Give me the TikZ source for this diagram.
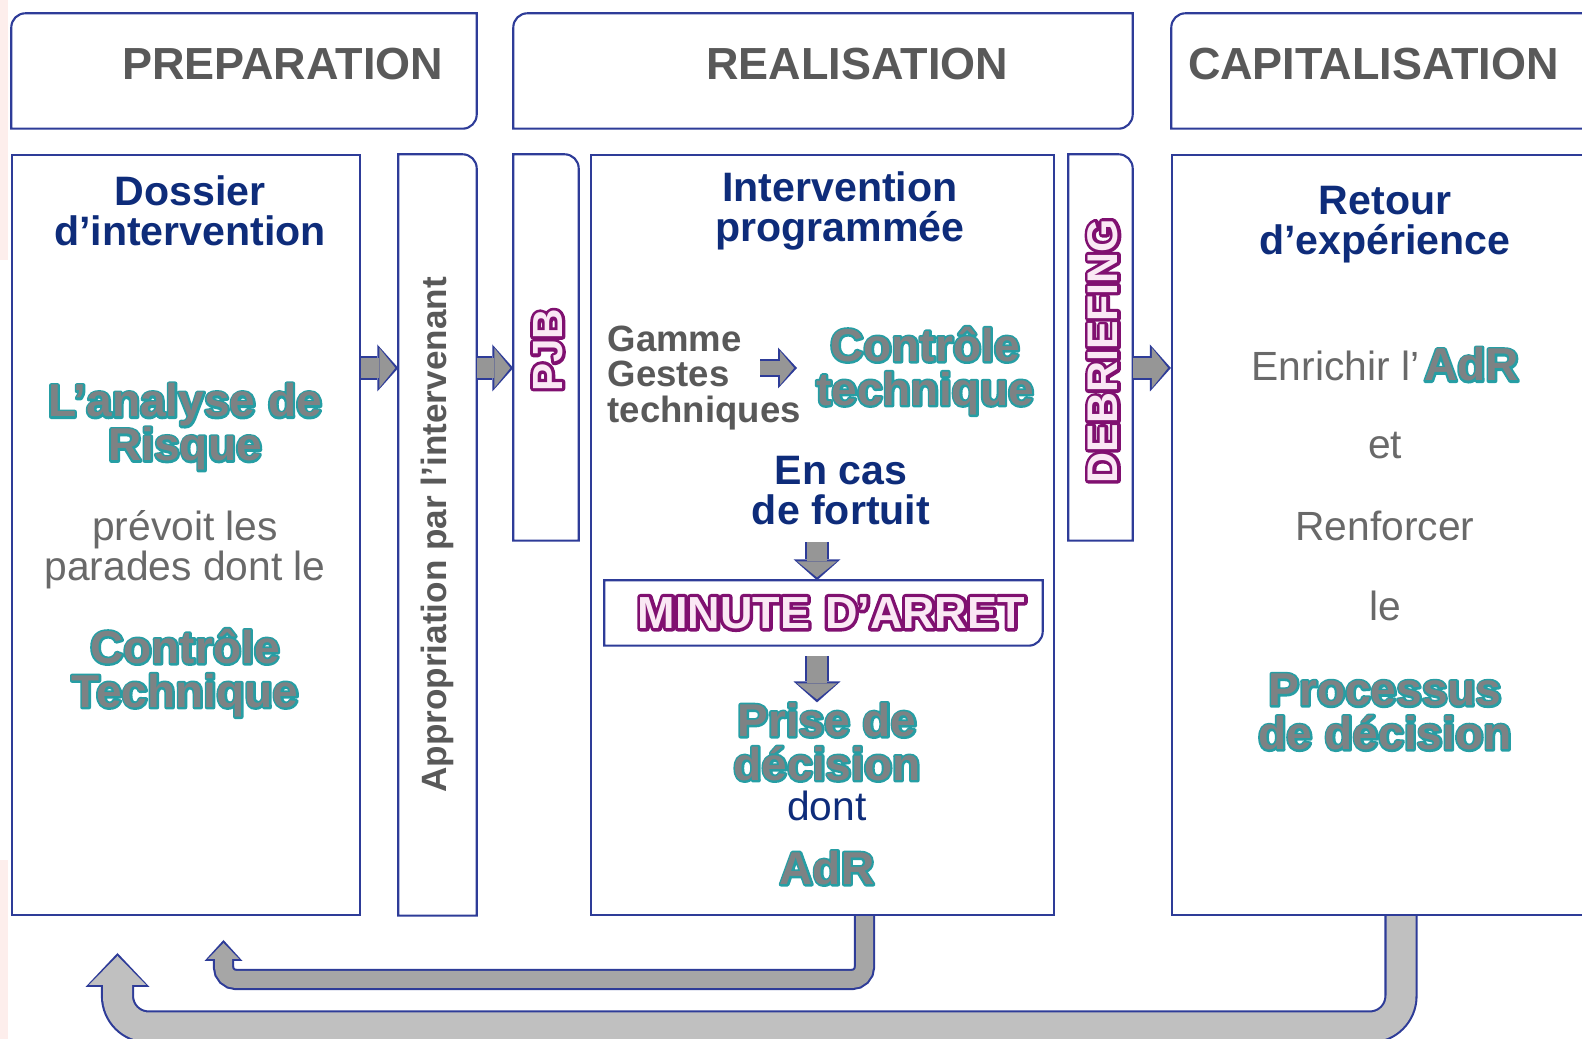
\documentclass[tikz,border=0pt]{standalone}
\usepackage{fontspec}
\setmainfont{Liberation Sans}
\newfontfamily\heavy{Liberation Sans Bold}
\newfontfamily\heavystroke{Liberation Sans Bold}[FakeBold=9]
\newfontfamily\heavyrim{Liberation Sans Bold}[FakeBold=15]
\usetikzlibrary{arrows.meta,calc,positioning}
\definecolor{linkblue}{RGB}{46,60,152}
\definecolor{navy}{RGB}{14,44,122}
\definecolor{headgray}{RGB}{89,89,89}
\definecolor{softgray}{RGB}{105,105,105}
\definecolor{tealline}{RGB}{38,158,164}
\definecolor{tealfill}{RGB}{125,130,132}
\definecolor{purpline}{RGB}{128,16,112}
\definecolor{purpfill}{RGB}{250,232,244}
\definecolor{arrowgray}{RGB}{150,150,150}
\definecolor{fbdark}{RGB}{166,166,166}
\definecolor{fblight}{RGB}{192,192,192}
\definecolor{blush}{RGB}{253,238,236}
\newcommand\tealtxt[1]{\leavevmode\rlap{\special{pdf:literal 1 j}\color{tealline}\heavystroke #1}{\color{tealfill}\heavy #1}}
\newcommand\purtxt[1]{\leavevmode\rlap{\special{pdf:literal 1 j}\color{purpline}\heavyrim #1}{\color{purpfill}\heavy #1}}
\newcommand\diagframe[1]{\draw[boxline] (#1.south west) -- ([yshift=-4pt]#1.north west) arc[start angle=180,end angle=90,radius=4pt] -- (#1.north east) -- ([yshift=4pt]#1.south east) arc[start angle=0,end angle=-90,radius=4pt] -- cycle;}
\newcommand\tabframe[1]{\draw[boxline] (#1.south west) -- (#1.north west) -- ([xshift=-4pt]#1.north east) arc[start angle=90,end angle=0,radius=4pt] -- (#1.south east) -- cycle;}
\newcommand\tailframe[1]{\draw[boxline] (#1.south west) -- (#1.north west) -- (#1.north east) -- ([yshift=4pt]#1.south east) arc[start angle=0,end angle=-90,radius=4pt] -- cycle;}
\tikzset{
    boxline/.style={draw=linkblue, line width=0.6pt},
    panel/.style={boxline, inner sep=0pt},
    ghost/.style={inner sep=0pt},
    hdr/.style={ghost, font=\bfseries\fontsize{12.8}{14}\selectfont, text=headgray,
        minimum height=11.4mm, text height=3.3mm, text depth=1.6mm},
    heading/.style={ghost, font=\bfseries\fontsize{11.7}{11.4}\selectfont, text=navy, align=center},
    keyword/.style={ghost, font=\fontsize{13.1}{12.5}\selectfont, align=center},
    soft/.style={ghost, font=\fontsize{11.6}{11.4}\selectfont, text=softgray, align=center},
    vtext/.style={ghost, rotate=90},
    blk/.style={draw=arrowgray, line width=2mm, shorten >=0.3mm,
        -{Triangle[length=1.6mm,width=4mm,line width=0pt]},
        preaction={draw=linkblue, line width=2.42mm, shorten >=0pt,
        -{Triangle[length=2.1mm,width=4.7mm,line width=0pt]}}},
    blksmall/.style={draw=arrowgray, line width=1.4mm, shorten >=0.3mm,
        -{Triangle[length=1.4mm,width=3.4mm,line width=0pt]},
        preaction={draw=linkblue, line width=1.82mm, shorten >=0pt,
        -{Triangle[length=1.9mm,width=4.1mm,line width=0pt]}}},
    fbsmall/.style={rounded corners=1.25mm, draw=fbdark, line width=1.7mm, shorten >=0.3mm,
        -{Triangle[length=1.6mm,width=3.1mm,line width=0pt]},
        preaction={draw=linkblue, line width=2.12mm, shorten >=0pt,
        -{Triangle[length=2.1mm,width=3.8mm,line width=0pt]}}},
    fbbig/.style={rounded corners=3.1mm, draw=fblight, line width=2.9mm, shorten >=0.3mm,
        -{Triangle[length=2.9mm,width=5.7mm,line width=0pt]},
        preaction={draw=linkblue, line width=3.32mm, shorten >=0pt,
        -{Triangle[length=3.4mm,width=6.4mm,line width=0pt]}}},
}
\begin{document}
\begin{tikzpicture}[x=0.1mm, y=-0.1mm]
    \useasboundingbox (0,0) rectangle (1582,1039);
    \clip (0,0) rectangle (1582,1039);
    \fill[blush] (0,0) rectangle (8,260);
    \fill[blush] (0,860) rectangle (8,1039);

    \node[hdr, text width=39.8mm, align=right, inner xsep=3.3mm] (hprep) at (244,71) {PREPARATION};
    \node[hdr, text width=37mm, align=right, inner xsep=12.4mm] (hreal) at (823,71) {REALISATION};
    \node[hdr, text width=39.6mm, align=left, inner xsep=1.6mm] (hcap) at (1386,71) {CAPITALISATION};
    \diagframe{hprep}
    \diagframe{hreal}
    \diagframe{hcap}

    \node[panel, minimum width=34.8mm, minimum height=76mm] (dossier) at (186,535) {};
    \node[ghost, minimum width=7.7mm, minimum height=76mm] (approp) at (437.5,535) {};
    \node[ghost, minimum width=6.4mm, minimum height=38.5mm] (pjb) at (546,347.5) {};
    \node[panel, minimum width=46.3mm, minimum height=76mm] (interv) at (822.5,535) {};
    \node[ghost, minimum width=6.3mm, minimum height=38.5mm] (debrief) at (1100.5,347.5) {};
    \node[panel, minimum width=42.8mm, minimum height=76mm] (retour) at (1386,535) {};
    \tabframe{approp}
    \tabframe{pjb}
    \tabframe{debrief}

    \node[heading] (dossiert) at (190,211) {Dossier\\d’intervention};
    \node[keyword] (risque) at (185,427) {\tealtxt{L’analyse de}\\\tealtxt{Risque}};
    \node[soft] (parades) at (185,550) {prévoit les\\parades dont le};
    \node[keyword] (ctrla) at (185,673) {\tealtxt{Contrôle}\\\tealtxt{Technique}};
    \node[vtext, font=\bfseries\fontsize{10}{12}\selectfont, text=headgray] (appropt) at (approp) {Appropriation par l’intervenant};
    \node[vtext, font=\fontsize{12}{14}\selectfont] (pjbt) at (548,350) {\purtxt{PJB}};

    \node[heading] (intervt) at (840,211) {Intervention\\programmée};
    \node[ghost, font=\bfseries\fontsize{10.4}{10}\selectfont, text=headgray, align=left, anchor=west] (gamme) at (607,378) {Gamme\\Gestes\\techniques};
    \node[keyword] (ctrlb) at (925,371) {\tealtxt{Contrôle}\\\tealtxt{technique}};
    \node[heading] (fortuit) at (841,491) {En cas\\de fortuit};
    \node[ghost, minimum width=43.7mm, minimum height=6.4mm, text width=40.3mm, align=right, inner xsep=1.7mm,
        font=\fontsize{12.8}{14}\selectfont] (minute) at (823.5,613) {\purtxt{MINUTE D’ARRET}};
    \tailframe{minute}
    \node[keyword] (prise) at (827,742) {\tealtxt{Prise de}\\\tealtxt{décision}};
    \node[soft, text=navy] (dont) at (827,806) {dont};
    \node[keyword] (adr) at (827,868) {\tealtxt{AdR}};
    \node[vtext, font=\fontsize{12.2}{14}\selectfont] (debrieft) at (1103,351) {\purtxt{DEBRIEFING}};

    \node[heading] (retourt) at (1385,225) {Retour\\d’expérience};
    \node[soft, anchor=base east] (enrichir) at (1420,381) {Enrichir l’};
    \node[keyword, anchor=base west, xshift=1pt] (adrb) at (enrichir.base east) {\tealtxt{AdR}};
    \node[soft] (et) at (1385,446) {et};
    \node[soft] (renforcer) at (1385,526) {Renforcer};
    \node[soft] (le) at (1385,606) {le};
    \node[keyword] (processus) at (1385,712) {\tealtxt{Processus}\\\tealtxt{de décision}};

    \coordinate (row) at (0,368);
    \coordinate (gs) at (760,368);
    \coordinate (ge) at (797,368);
    \coordinate (d1) at (817,542);
    \coordinate (d2) at (817,656);
    \coordinate (fba) at (223.5,979.5);
    \coordinate (fbatip) at (223.5,940);
    \coordinate (fbb) at (117.5,1027);
    \coordinate (fbbtip) at (117.5,953);

    \draw[blk] (dossier.east |- row) -- (approp.west |- row);
    \draw[blk] (approp.east |- row) -- (pjb.west |- row);
    \draw[blk] (debrief.east |- row) -- (retour.west |- row);
    \draw[blksmall] (gs) -- (ge);
    \draw[blk] (d1) -- (minute.north -| d1);
    \draw[blk] (d2) -- (prise.north -| d2);
    \draw[fbsmall] ([xshift=4.2mm]interv.south) |- (fba) -- (fbatip);
    \draw[fbbig] ([xshift=1.5mm]retour.south) |- (fbb) -- (fbbtip);
\end{tikzpicture}
\end{document}
